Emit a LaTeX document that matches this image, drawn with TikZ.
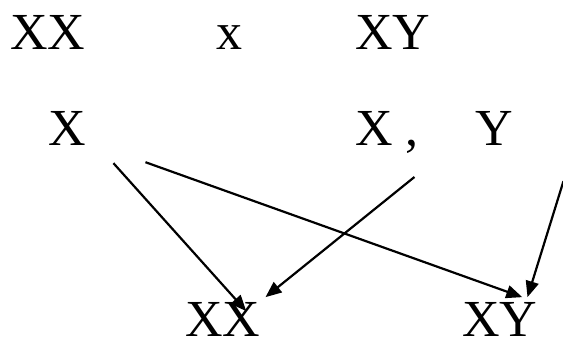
\documentclass[tikz,border=0pt]{standalone}
\usepackage{fontspec}
\setmainfont{Liberation Serif}
\usetikzlibrary{arrows.meta}
\tikzset{
  gene/.style={inner sep=0pt, anchor=base west, font=\fontsize{52}{60}\selectfont},
  cross/.style={-{Triangle[length=16pt,width=13pt]}, line width=2.2pt}
}
\begin{document}
\begin{tikzpicture}[x=1pt, y=-1pt]
\useasboundingbox (0,0) rectangle (563,337);
% Parents
\node[gene] (XXp) at (10,50) {XX};
\node[gene] (times) at (216,50) {x};
\node[gene] (XYp) at (355,50) {XY};

% Gametes
\node[gene] (Xa) at (48,146) {X};
\node[gene] (Xb) at (355,146) {X ,};
\node[gene] (Yb) at (475,146) {Y};

% Offspring
\node[gene] (XXo) at (185,336) {XX};
\node[gene] (XYo) at (462,336) {XY};

% Arrows
\draw[cross] ([xshift=27.5pt, yshift=-17pt]Xa.south east) -- ([xshift=23.5pt, yshift=-9.4pt]XXo.north);
\draw[cross] ([xshift=59.5pt, yshift=-16pt]Xa.south east) -- ([xshift=22.5pt, yshift=4.6pt]XYo.north);
\draw[cross] ([xshift=-4.5pt, yshift=-31pt]Xb.base east) -- ([xshift=5pt, yshift=4.6pt]XXo.north east);
\draw[cross] ([xshift=50.5pt, yshift=-35pt]Yb.south east) -- ([xshift=-10pt, yshift=4.6pt]XYo.north east);
\end{tikzpicture}
\end{document}
